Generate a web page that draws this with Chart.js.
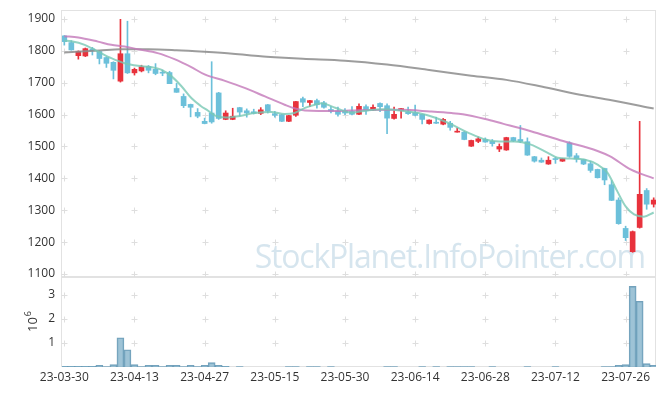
<!DOCTYPE html>
<html>
<head>
<meta charset="utf-8">
<script src="https://cdn.jsdelivr.net/npm/chart.js@4.4.0/dist/chart.umd.min.js"></script>
<style>
  html, body { margin: 0; padding: 0; background: #fff; }
  #wrap { position: relative; width: 665px; height: 396px; }
  #priceBox { position: absolute; left: 0; top: 0; width: 665px; height: 278px; }
  #volBox { position: absolute; left: 0; top: 277px; width: 665px; height: 119px; }
</style>
</head>
<body>
<div id="wrap">
  <div id="priceBox"><canvas id="price"></canvas></div>
  <div id="volBox"><canvas id="vol"></canvas></div>
</div>
<script>
// trading days
const dates = [
  '23-03-30','23-03-31','23-04-03','23-04-04','23-04-05','23-04-06','23-04-07','23-04-10','23-04-11','23-04-12',
  '23-04-13','23-04-14','23-04-17','23-04-18','23-04-19','23-04-20','23-04-21','23-04-24','23-04-25','23-04-26',
  '23-04-27','23-04-28','23-05-02','23-05-03','23-05-04','23-05-08','23-05-09','23-05-10','23-05-11','23-05-12',
  '23-05-15','23-05-16','23-05-17','23-05-18','23-05-19','23-05-22','23-05-23','23-05-24','23-05-25','23-05-26',
  '23-05-30','23-05-31','23-06-01','23-06-02','23-06-05','23-06-07','23-06-08','23-06-09','23-06-12','23-06-13',
  '23-06-14','23-06-15','23-06-16','23-06-19','23-06-20','23-06-21','23-06-22','23-06-23','23-06-26','23-06-27',
  '23-06-28','23-06-29','23-06-30','23-07-03','23-07-04','23-07-05','23-07-06','23-07-07','23-07-10','23-07-11',
  '23-07-12','23-07-13','23-07-14','23-07-17','23-07-18','23-07-19','23-07-20','23-07-21','23-07-24','23-07-25',
  '23-07-26','23-07-27','23-07-28','23-07-31','23-08-01'
];

const openP = [
  1847,1826,1785,1784,1806,1798,1779,1764,1705,1791,
  1731,1737,1751,1742,1733,1732,1682,1657,1632,1607,
  1579,1605,1668,1585,1585,1622,1612,1609,1604,1631,
  1603,1600,1579,1598,1650,1638,1644,1637,1616,1611,
  1612,1610,1601,1625,1614,1635,1628,1588,1613,1609,
  1606,1601,1572,1576,1570,1573,1545,1545,1501,1516,
  1522,1516,1492,1489,1528,1522,1515,1468,1457,1445,
  1461,1454,1511,1471,1459,1446,1428,1431,1380,1332,
  1243,1170,1246,1362,1319
];
const highP = [
  1848,1832,1800,1809,1811,1800,1781,1766,1899,1893,
  1746,1755,1754,1760,1740,1736,1698,1665,1633,1619,
  1589,1766,1670,1612,1620,1623,1618,1617,1622,1632,
  1610,1601,1598,1642,1655,1645,1649,1642,1625,1624,
  1619,1625,1634,1631,1631,1637,1634,1624,1620,1624,
  1630,1602,1584,1592,1588,1579,1558,1547,1520,1530,
  1527,1522,1508,1529,1529,1566,1527,1469,1464,1468,
  1466,1463,1515,1478,1460,1454,1429,1432,1393,1339,
  1250,1235,1579,1368,1339
];
const lowP = [
  1818,1802,1774,1782,1787,1759,1748,1712,1702,1729,
  1724,1734,1731,1725,1722,1697,1670,1622,1593,1590,
  1571,1573,1585,1584,1584,1596,1592,1602,1600,1605,
  1592,1578,1578,1594,1625,1625,1620,1620,1605,1595,
  1600,1599,1600,1601,1612,1609,1540,1586,1589,1601,
  1596,1571,1570,1572,1568,1551,1545,1521,1500,1512,
  1513,1501,1484,1488,1515,1512,1472,1451,1450,1444,
  1447,1453,1466,1451,1443,1419,1401,1380,1330,1256,
  1205,1168,1244,1303,1310
];
const closeP = [
  1829,1803,1798,1807,1800,1776,1761,1739,1791,1731,
  1742,1750,1739,1729,1730,1697,1670,1628,1623,1595,
  1572,1577,1588,1605,1595,1608,1605,1604,1615,1611,
  1598,1579,1597,1641,1639,1644,1631,1623,1611,1601,
  1605,1601,1626,1612,1623,1625,1589,1601,1619,1603,
  1598,1585,1583,1573,1585,1560,1547,1522,1519,1524,
  1514,1509,1500,1528,1518,1516,1473,1454,1451,1457,
  1459,1462,1469,1461,1445,1425,1402,1395,1331,1258,
  1214,1233,1350,1319,1332
];
const volume = [
  25000,25000,25000,25000,25000,70000,20000,100000,1220000,720000,
  100000,15000,70000,70000,20000,70000,70000,20000,70000,20000,
  70000,180000,70000,30000,0,20000,0,0,0,0,
  0,0,20000,20000,0,20000,20000,0,20000,0,
  0,0,0,0,0,0,20000,20000,0,0,
  0,20000,0,20000,0,20000,20000,20000,20000,0,
  0,20000,0,0,0,0,20000,0,0,0,
  20000,0,0,0,0,0,0,20000,20000,70000,
  100000,3360000,2740000,140000,70000
];

// moving average lines (bar index, price)
const ma5Idx = [0,1,2.9,4.8,6.7,8.6,10.5,12.4,13.8,15.3,16.7,18.1,19.4,20.5,21.5,23,24.8,27.1,29.5,31.4,32.8,34.3,35.7,36.7,38.1,39.5,41,43.4,45.7,48.1,50.5,52.9,55.2,57.6,60,62,64.1,66.5,68.9,70.3,72.2,74.1,76,77.4,78.8,80,81.2,82.6,84];
const ma5Val = [1832,1830,1819,1798,1777,1761,1753,1749,1741,1720,1689,1652,1628,1612,1597,1591,1595,1605,1608,1602,1605,1621,1631,1636,1626,1614,1606,1614,1617,1612,1605,1590,1569,1543,1522,1516,1516,1506,1480,1465,1462,1459,1443,1418,1360,1312,1287,1280,1293];
const ma20Idx = [0,2,4.8,6.7,8.6,10.5,13.3,15.7,18.1,20,22.9,25.7,28.6,31.4,32.9,34.3,39,42,48,52.1,55.2,56.8,60,62.6,64.9,66.5,71.1,76,77.8,80.7,84];
const ma20Val = [1846,1842,1829,1819,1814,1805,1793,1774,1749,1726,1706,1684,1657,1631,1619,1613,1611,1614,1615,1610,1605,1601,1586,1571,1558,1548,1517,1486,1469,1428,1400];
const ma60Idx = [0,5,8,12,16,20,24,28,30,34,40,46,52,58,63,68,73.5,78,84];
const ma60Val = [1795,1801,1805,1805,1802,1797,1791,1783,1780,1775,1769,1757,1740,1722,1709,1688,1662,1645,1619];

const priceTicks = [1100,1200,1300,1400,1500,1600,1700,1800,1900];
const volTicks = [1000000,2000000,3000000];
const dateTickIdx = [0,10,20,30,40,50,60,70,80];

const RED = '#e8323c';
const BLUE = '#6cc0da';
const FONT = '"Open Sans", "Noto Sans", sans-serif';

const upColor = (i) => closeP[i] >= openP[i] ? RED : BLUE;

// light frame plus "+" marks at tick crossings
const framePlugin = {
  id: 'frame',
  beforeDraw(chart, args, opts) {
    const { ctx, chartArea: a, scales } = chart;
    ctx.save();
    ctx.strokeStyle = '#e2e2e2';
    ctx.lineWidth = 1;
    ctx.strokeRect(Math.round(a.left) - 0.5, Math.round(a.top) + 0.5,
      Math.round(a.right - a.left), Math.round(a.bottom - a.top) - 1);
    ctx.strokeStyle = '#dedede';
    opts.yTicks.forEach(v => {
      const y = Math.round(scales.y.getPixelForValue(v)) + 0.5;
      dateTickIdx.forEach(i => {
        const x = Math.round(scales.x.getPixelForValue(i)) + 0.5;
        ctx.beginPath();
        ctx.moveTo(x - 3, y); ctx.lineTo(x + 3, y);
        ctx.moveTo(x, y - 3); ctx.lineTo(x, y + 3);
        ctx.stroke();
      });
    });
    ctx.restore();
  }
};

const watermark = {
  id: 'watermark',
  beforeDatasetsDraw(chart) {
    const ctx = chart.ctx;
    ctx.save();
    ctx.font = '32px ' + FONT;
    ctx.letterSpacing = '-1.2px';
    ctx.fillStyle = 'rgba(180,208,224,0.55)';
    ctx.textAlign = 'right';
    ctx.textBaseline = 'alphabetic';
    ctx.fillText('StockPlanet.InfoPointer.com', 645, 268);
    ctx.restore();
  }
};

const expLabel = {
  id: 'expLabel',
  afterDraw(chart) {
    const ctx = chart.ctx;
    ctx.save();
    ctx.translate(37, 55);
    ctx.rotate(-Math.PI / 2);
    ctx.fillStyle = '#333';
    ctx.textBaseline = 'alphabetic';
    ctx.font = '13px ' + FONT;
    ctx.fillText('10', 0, 0);
    const w = ctx.measureText('10').width;
    ctx.font = '9px ' + FONT;
    ctx.fillText('6', w + 1, -6);
    ctx.restore();
  }
};

const xScale = (display) => ({
  type: 'linear',
  min: -0.33,
  max: 84.33,
  offset: false,
  display: display,
  grid: { display: false, drawTicks: false },
  border: { display: false },
  afterBuildTicks: s => { s.ticks = dateTickIdx.map(v => ({ value: v })); },
  afterFit: s => {
    s.paddingLeft = 0;
    s.paddingRight = 0;
    if (display) s.height = 29;
  },
  ticks: {
    autoSkip: false,
    maxRotation: 0,
    padding: 3,
    color: '#333',
    font: { family: FONT, size: 12 },
    callback: v => dates[v]
  }
});

const yFit = s => {
  s.width = 62;
  s.paddingTop = 0;
  s.paddingBottom = 0;
};

new Chart(document.getElementById('price'), {
  type: 'bar',
  data: {
    datasets: [
      {
        type: 'line', label: 'MA5', order: 0,
        data: ma5Idx.map((x, k) => ({ x: x, y: ma5Val[k] })),
        borderColor: 'rgba(120,200,180,0.8)', borderWidth: 2,
        pointRadius: 0, cubicInterpolationMode: 'monotone'
      },
      {
        type: 'line', label: 'MA20', order: 0,
        data: ma20Idx.map((x, k) => ({ x: x, y: ma20Val[k] })),
        borderColor: 'rgba(195,120,185,0.8)', borderWidth: 2,
        pointRadius: 0, cubicInterpolationMode: 'monotone'
      },
      {
        type: 'line', label: 'MA60', order: 0,
        data: ma60Idx.map((x, k) => ({ x: x, y: ma60Val[k] })),
        borderColor: 'rgba(140,140,140,0.85)', borderWidth: 2,
        pointRadius: 0, cubicInterpolationMode: 'monotone'
      },
      {
        label: 'wick', order: 2, grouped: false,
        data: dates.map((d, i) => ({ x: i, y: [lowP[i], highP[i]] })),
        backgroundColor: dates.map((d, i) => upColor(i)),
        barThickness: 1, borderWidth: 0
      },
      {
        label: 'body', order: 1, grouped: false,
        data: dates.map((d, i) => ({ x: i, y: [openP[i], closeP[i]] })),
        backgroundColor: dates.map((d, i) => upColor(i)),
        barThickness: 5, borderWidth: 0, minBarLength: 1
      }
    ]
  },
  options: {
    responsive: true,
    maintainAspectRatio: false,
    animation: false,
    events: [],
    layout: { padding: { top: 10, right: 9, left: 0, bottom: 1 } },
    plugins: {
      legend: { display: false },
      tooltip: { enabled: false },
      frame: { yTicks: priceTicks }
    },
    scales: {
      x: xScale(false),
      y: {
        min: 1090.6,
        max: 1928.2,
        grid: { display: false, drawTicks: false },
        border: { display: false },
        afterBuildTicks: s => { s.ticks = priceTicks.map(v => ({ value: v })); },
        afterFit: yFit,
        ticks: { padding: 7, color: '#333', font: { family: FONT, size: 12 }, callback: v => String(v) }
      }
    }
  },
  plugins: [framePlugin, watermark]
});

new Chart(document.getElementById('vol'), {
  type: 'bar',
  data: {
    datasets: [{
      label: 'volume',
      data: dates.map((d, i) => ({ x: i, y: volume[i] })),
      backgroundColor: 'rgba(125,175,200,0.75)',
      borderColor: 'rgba(90,145,175,0.85)',
      borderWidth: 1,
      barPercentage: 1,
      categoryPercentage: 1
    }]
  },
  options: {
    responsive: true,
    maintainAspectRatio: false,
    animation: false,
    events: [],
    layout: { padding: { top: 0, right: 9, left: 0, bottom: 0 } },
    plugins: {
      legend: { display: false },
      tooltip: { enabled: false },
      frame: { yTicks: volTicks }
    },
    scales: {
      x: xScale(true),
      y: {
        min: 0,
        max: 3750000,
        grid: { display: false, drawTicks: false },
        border: { display: false },
        afterBuildTicks: s => { s.ticks = volTicks.map(v => ({ value: v })); },
        afterFit: yFit,
        ticks: { padding: 7, color: '#333', font: { family: FONT, size: 12 }, callback: v => String(v / 1000000) }
      }
    }
  },
  plugins: [framePlugin, expLabel]
});
</script>
</body>
</html>
